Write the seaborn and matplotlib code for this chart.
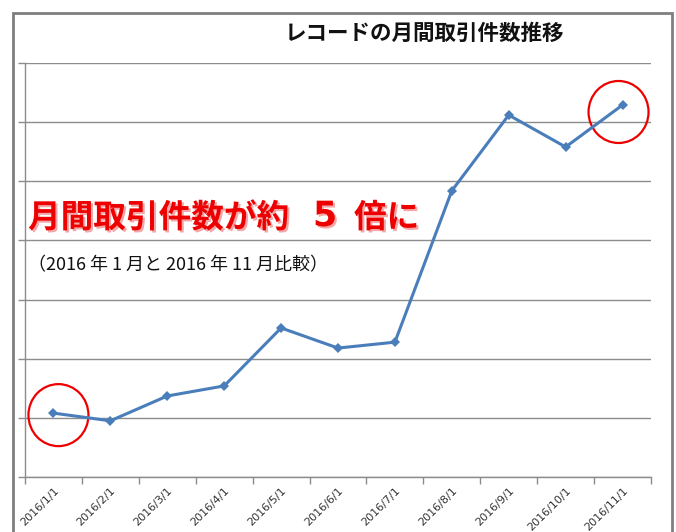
import numpy as np
import pandas as pd
import matplotlib
matplotlib.use("Agg")
import matplotlib.pyplot as plt
import matplotlib.patheffects as pe
from matplotlib.patches import Ellipse, Rectangle
from matplotlib.transforms import ScaledTranslation
import seaborn as sns

months = ["2016/1/1", "2016/2/1", "2016/3/1", "2016/4/1", "2016/5/1", "2016/6/1",
          "2016/7/1", "2016/8/1", "2016/9/1", "2016/10/1", "2016/11/1"]
counts = [108, 95, 137, 154, 252, 218, 228, 484, 612, 558, 629]
title = "レコードの月間取引件数推移"
headline_a = "月間取引件数が約"
headline_n = "5"
headline_b = "倍に"
subtitle = "（2016 年 1 月と 2016 年 11 月比較）"
highlight = [0, 10]

sns.set_theme(style="white")
plt.rcParams["font.family"] = ["Noto Sans CJK JP", "DejaVu Sans"]

df = pd.DataFrame({"idx": np.arange(len(months)), "month": months, "count": counts})

fig = plt.figure(figsize=(6.76, 5.32), dpi=100)
ax = fig.add_axes([25 / 676, 1 - 477 / 532, 626 / 676, 414 / 532])

sns.lineplot(data=df, x="idx", y="count", ax=ax, color="#4a7ebb", linewidth=2.2,
             marker="D", markersize=5, markeredgewidth=0)

ax.set_xlim(-0.5, len(months) - 0.5)
ax.set_ylim(0, 700)
ax.set_yticks(np.arange(0, 701, 100))
ax.set_yticklabels([])
ax.yaxis.grid(True, color="#8c8c8c", linewidth=1)
ax.tick_params(axis="y", length=5, color="#8c8c8c", left=True, width=1)
ax.set_xticks(df["idx"])
ax.set_xticklabels(months, rotation=45, ha="right", rotation_mode="anchor",
                   fontsize=8, color="#333333", family="DejaVu Sans")
ax.set_xticks(np.arange(-0.5, len(months)), minor=True)
ax.tick_params(axis="x", which="major", length=0, pad=6)
ax.tick_params(axis="x", which="minor", length=5, color="#8c8c8c", bottom=True, width=1)
ax.set_xlabel("")
ax.set_ylabel("")
for s in ["top", "right"]:
    ax.spines[s].set_visible(False)
for s in ["left", "bottom"]:
    ax.spines[s].set_color("#8c8c8c")
    ax.spines[s].set_linewidth(1)

# red circles around first and last points
offsets = {0: (0.05, -0.02), 10: (-0.04, -0.07)}
for i in highlight:
    tr = fig.dpi_scale_trans + ScaledTranslation(df["idx"][i], df["count"][i], ax.transData)
    e = Ellipse(offsets[i], 0.6, 0.62, transform=tr, fill=False,
                edgecolor="#ee0000", linewidth=1.6, clip_on=False)
    ax.add_artist(e)

# outer chart border
fig.add_artist(Rectangle((13 / 676, -0.05), 659 / 676, 1.05 - 13 / 532,
                         transform=fig.transFigure, fill=False,
                         edgecolor="#7f7f7f", linewidth=2))

fig.text(425 / 676, 1 - 33 / 532, title, ha="center", va="center",
         fontsize=15.5, fontweight="bold", color="#111111")

shadow = [pe.withSimplePatchShadow(offset=(1.5, -1.5), shadow_rgbFace="#f2a8a8", alpha=1.0)]
fig.text(28 / 676, 1 - 218 / 532, headline_a, ha="left", va="center",
         fontsize=23.5, fontweight="bold", color="#ee0000", path_effects=shadow)
fig.text(313 / 676, 1 - 216 / 532, headline_n, ha="left", va="center",
         fontsize=25, fontweight="bold", color="#ee0000", family=["DejaVu Sans"],
         path_effects=shadow)
fig.text(354 / 676, 1 - 218 / 532, headline_b, ha="left", va="center",
         fontsize=23.5, fontweight="bold", color="#ee0000", path_effects=shadow)

fig.text(28 / 676, 1 - 265 / 532, subtitle, ha="left", va="center",
         fontsize=13, color="#111111")

fig.savefig("out.png", dpi=100)
